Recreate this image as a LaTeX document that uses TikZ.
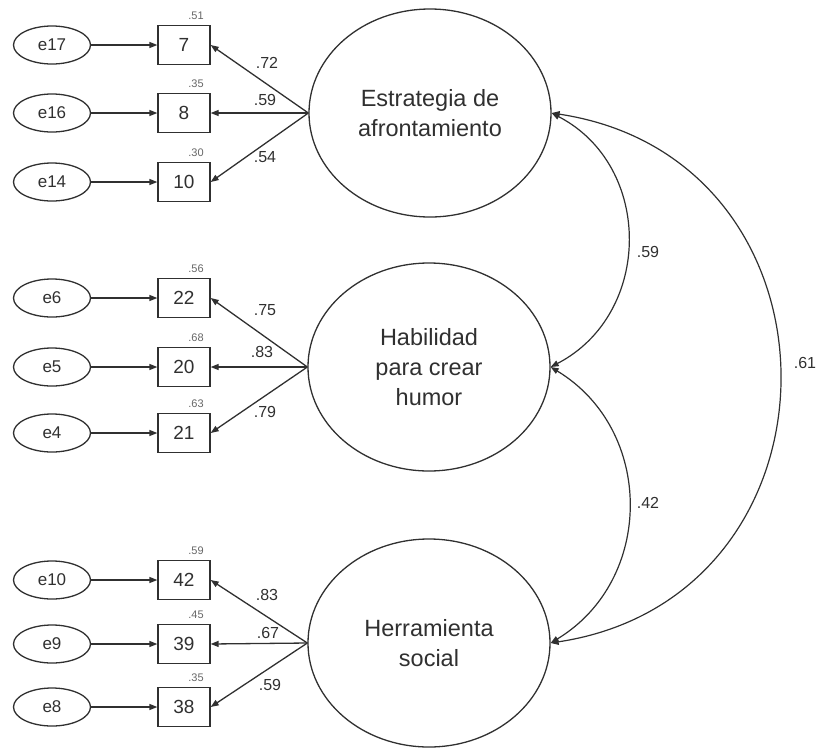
\documentclass[tikz,border=0pt]{standalone}
\usepackage{fontspec}
\setmainfont{Liberation Sans}
\usepackage{tikz}
\usetikzlibrary{arrows.meta,shapes.geometric}
\definecolor{ink}{HTML}{303030}
\definecolor{soft}{HTML}{666666}

\begin{document}
\begin{tikzpicture}[x=1pt, y=-1pt, every node/.style={text=ink},
  latnode/.style={draw=ink, line width=1.3pt, ellipse, minimum width=242pt, minimum height=208pt,
    inner sep=0pt, align=center, font=\fontsize{23.5}{30}\selectfont},
  errnode/.style={draw=ink, line width=1.3pt, ellipse, minimum width=77pt, minimum height=38pt,
    inner sep=0pt, font=\fontsize{17}{20}\selectfont},
  obsnode/.style={draw=ink, line width=1.3pt, rectangle, minimum width=52pt, minimum height=39pt,
    inner sep=0pt, font=\fontsize{19}{22}\selectfont},
  rsqlab/.style={anchor=south, inner sep=1pt, xshift=12pt, yshift=4pt, text=soft,
    font=\fontsize{11}{13}\selectfont},
  loadlab/.style={font=\fontsize{16}{18}\selectfont, inner sep=0pt},
  path/.style={draw=ink, line width=1.3pt, -{Triangle[length=8pt,width=6pt]}},
  cov/.style={draw=ink, line width=1.2pt, {Triangle[length=8pt,width=6pt]}-{Triangle[length=8pt,width=6pt]}}]
  \useasboundingbox (0,0) rectangle (817,748);
  % latent factors
  \node[latnode] (lat1) at (430,113) {Estrategia de\\afrontamiento};
  \node[latnode] (lat2) at (429,367) {Habilidad\\para crear\\humor};
  \node[latnode] (lat3) at (429,643) {Herramienta\\social};
  % coping items
  \foreach \ind/\err/\y/\rsq in {7/e17/45/.51, 8/e16/113/.35, 10/e14/182/.30} {
    \node[errnode] (\err) at (52,\y) {\err};
    \node[obsnode] (b\ind) at (184,\y) {\ind};
    \node[rsqlab] at (b\ind.north) {\rsq};
    \draw[path] (\err) -- (b\ind);
    \draw[path] (lat1.west) -- (b\ind.east);
  }
  \node[loadlab] at (267,63) {.72};
  \node[loadlab] at (265,100) {.59};
  \node[loadlab] at (265,157) {.54};
  % humour items
  \foreach \ind/\err/\y/\rsq in {22/e6/298/.56, 20/e5/367/.68, 21/e4/433/.63} {
    \node[errnode] (\err) at (52,\y) {\err};
    \node[obsnode] (b\ind) at (184,\y) {\ind};
    \node[rsqlab] at (b\ind.north) {\rsq};
    \draw[path] (\err) -- (b\ind);
    \draw[path] (lat2.west) -- (b\ind.east);
  }
  \node[loadlab] at (265,310) {.75};
  \node[loadlab] at (262,352) {.83};
  \node[loadlab] at (265,412) {.79};
  % social items
  \foreach \ind/\err/\y/\rsq in {42/e10/580/.59, 39/e9/644/.45, 38/e8/707/.35} {
    \node[errnode] (\err) at (52,\y) {\err};
    \node[obsnode] (b\ind) at (184,\y) {\ind};
    \node[rsqlab] at (b\ind.north) {\rsq};
    \draw[path] (\err) -- (b\ind);
    \draw[path] (lat3.west) -- (b\ind.east);
  }
  \node[loadlab] at (267,595) {.83};
  \node[loadlab] at (268,633) {.67};
  \node[loadlab] at (270,685) {.59};
  % correlations
  \draw[cov] (lat1.east) .. controls +(102,53) and +(102,-53) .. (lat2.east);
  \draw[cov] (lat2.east) .. controls +(104,63) and +(104,-63) .. (lat3.east);
  \draw[cov] (lat1.east) .. controls +(304,46) and +(304,-46) .. (lat3.east);
  \node[loadlab] at (648,252) {.59};
  \node[loadlab] at (648,503) {.42};
  \node[loadlab] at (805,363) {.61};
\end{tikzpicture}
\end{document}
